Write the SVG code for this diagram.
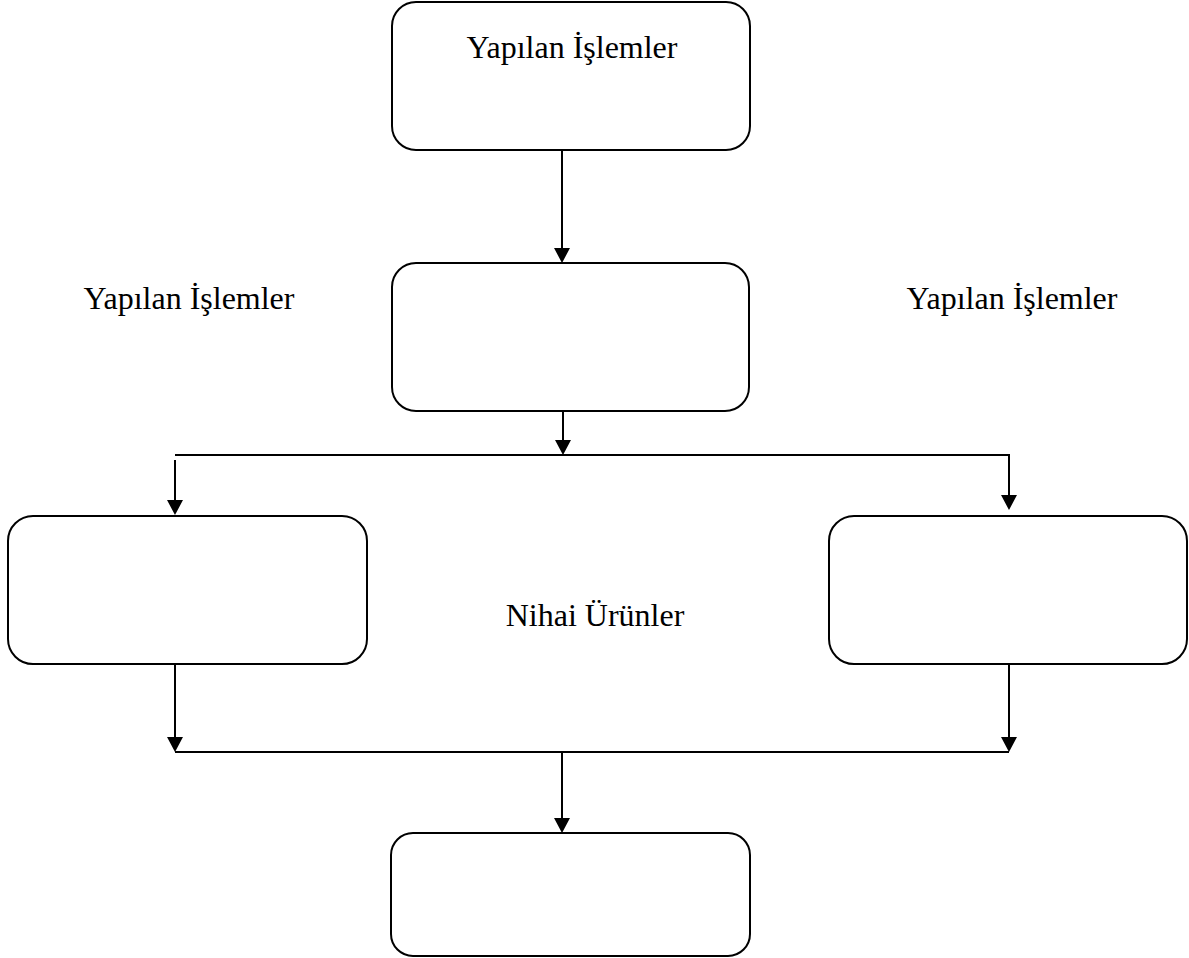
<svg xmlns="http://www.w3.org/2000/svg" width="1189" height="958" viewBox="0 0 1189 958">
<style>
.box{fill:#fff;stroke:#000;stroke-width:2}
.ln{fill:none;stroke:#000;stroke-width:2}
.ah{fill:#000}
.t{font-family:"Liberation Serif","Times New Roman",serif;font-size:32px;fill:#000;text-anchor:middle}
</style>
<rect width="1189" height="958" fill="#fff"/>
<g id="connectors">
<path class="ln" d="M562,150 V249"/>
<path class="ah" d="M554,248 L570,248 L562,263 Z"/>
<path class="ln" d="M563,411 V441"/>
<path class="ah" d="M555,440 L571,440 L563,455 Z"/>
<path class="ln" d="M175,455 H1009 V496"/>
<path class="ah" d="M1001,495 L1017,495 L1009,510 Z"/>
<path class="ln" d="M175,460 V501"/>
<path class="ah" d="M167,500 L183,500 L175,515 Z"/>
<path class="ln" d="M175,664 V738"/>
<path class="ah" d="M167,737 L183,737 L175,752 Z"/>
<path class="ln" d="M1009,664 V738"/>
<path class="ah" d="M1001,737 L1017,737 L1009,752 Z"/>
<path class="ln" d="M175,752 H1009"/>
<path class="ln" d="M562,752 V818"/>
<path class="ah" d="M554,818 L570,818 L562,833 Z"/>
</g>
<g id="node-top">
<rect class="box" x="392" y="2" width="358" height="148" rx="24" ry="24"/>
<text class="t" x="572" y="58">Yapılan İşlemler</text>
</g>
<g id="node-middle">
<rect class="box" x="392" y="263" width="357" height="148" rx="24" ry="24"/>
</g>
<g id="label-left">
<text class="t" x="189" y="309">Yapılan İşlemler</text>
</g>
<g id="label-right">
<text class="t" x="1012" y="309">Yapılan İşlemler</text>
</g>
<g id="node-left">
<rect class="box" x="8" y="516" width="359" height="148" rx="25" ry="25"/>
</g>
<g id="node-right">
<rect class="box" x="829" y="516" width="358" height="148" rx="25" ry="25"/>
</g>
<g id="label-center">
<text class="t" x="595" y="626">Nihai Ürünler</text>
</g>
<g id="node-bottom">
<rect class="box" x="391" y="833" width="359" height="123" rx="22" ry="22"/>
</g>
</svg>
